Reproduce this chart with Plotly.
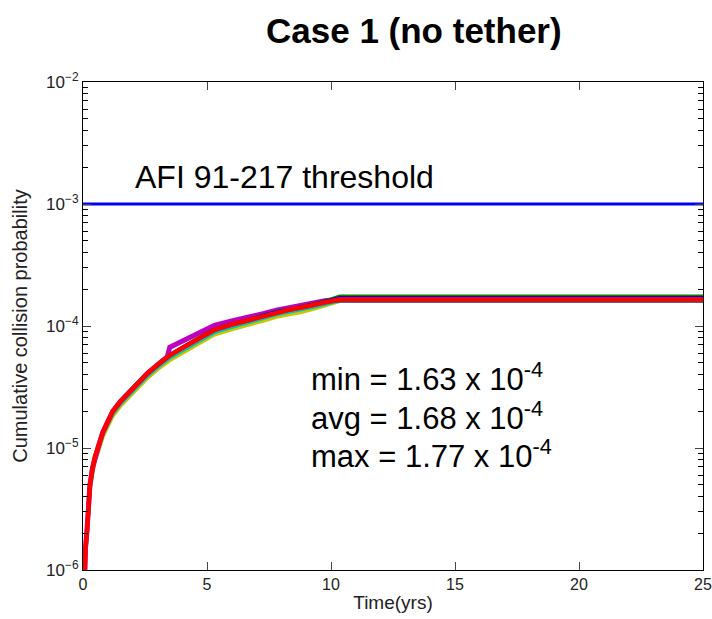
import plotly.graph_objects as go

# Time axis (years) shared by the simulation runs
time_yrs = [0.03, 0.06, 0.10, 0.16, 0.22, 0.28, 0.38, 0.48, 0.60, 0.80, 1.0, 1.2, 1.5, 1.8, 2.2,
            2.6, 3.0, 3.4, 3.5, 4.0, 4.6, 5.3, 6.0, 6.7, 7.3, 7.8, 8.3, 8.8, 9.3, 9.8, 10.35, 25]

# Cumulative collision probability of individual runs
run_red = [5.0e-7, 1.0e-6, 1.5e-6, 2.1e-6, 3.5e-6, 5.0e-6, 6.8e-6, 8.5e-6, 1.0e-5, 1.35e-5, 1.65e-5,
           2.0e-5, 2.4e-5, 2.8e-5, 3.4e-5, 4.1e-5, 4.8e-5, 5.6e-5, 5.75e-5, 6.6e-5, 7.8e-5, 9.3e-5,
           1.03e-4, 1.12e-4, 1.22e-4, 1.30e-4, 1.36e-4, 1.42e-4, 1.50e-4, 1.58e-4, 1.655e-4, 1.655e-4]
run_yellow = [5.0e-7, 0.93e-6, 1.38e-6, 1.95e-6, 3.2e-6, 4.6e-6, 6.2e-6, 7.8e-6, 9.2e-6, 1.24e-5, 1.51e-5,
              1.83e-5, 2.2e-5, 2.56e-5, 3.1e-5, 3.75e-5, 4.4e-5, 5.1e-5, 5.25e-5, 6.0e-5, 7.1e-5, 8.5e-5,
              9.4e-5, 1.02e-4, 1.11e-4, 1.19e-4, 1.24e-4, 1.30e-4, 1.38e-4, 1.47e-4, 1.60e-4, 1.60e-4]
run_cyan = [5.0e-7, 0.96e-6, 1.43e-6, 2.02e-6, 3.35e-6, 4.8e-6, 6.5e-6, 8.1e-6, 9.6e-6, 1.29e-5, 1.58e-5,
            1.91e-5, 2.3e-5, 2.68e-5, 3.25e-5, 3.92e-5, 4.6e-5, 5.35e-5, 5.5e-5, 6.3e-5, 7.45e-5, 8.9e-5,
            9.85e-5, 1.07e-4, 1.165e-4, 1.245e-4, 1.30e-4, 1.36e-4, 1.44e-4, 1.52e-4, 1.62e-4, 1.62e-4]
run_magenta = [5.0e-7, 1.0e-6, 1.5e-6, 2.1e-6, 3.5e-6, 5.0e-6, 6.8e-6, 8.5e-6, 1.0e-5, 1.35e-5, 1.65e-5,
               2.0e-5, 2.4e-5, 2.8e-5, 3.4e-5, 4.1e-5, 4.8e-5, 5.6e-5, 6.7e-5, 7.5e-5, 8.7e-5, 1.01e-4,
               1.10e-4, 1.18e-4, 1.27e-4, 1.35e-4, 1.41e-4, 1.47e-4, 1.55e-4, 1.62e-4, 1.63e-4, 1.63e-4]
run_gray = [5.0e-7, 0.98e-6, 1.47e-6, 2.07e-6, 3.45e-6, 4.9e-6, 6.7e-6, 8.3e-6, 9.8e-6, 1.32e-5, 1.61e-5,
            1.95e-5, 2.34e-5, 2.73e-5, 3.32e-5, 4.0e-5, 4.68e-5, 5.45e-5, 5.6e-5, 6.45e-5, 7.6e-5, 9.05e-5,
            1.005e-4, 1.09e-4, 1.19e-4, 1.265e-4, 1.325e-4, 1.385e-4, 1.46e-4, 1.54e-4, 1.59e-4, 1.59e-4]
run_green = [5.0e-7, 1.02e-6, 1.52e-6, 2.13e-6, 3.56e-6, 5.07e-6, 6.92e-6, 8.65e-6, 1.02e-5, 1.38e-5, 1.68e-5,
             2.03e-5, 2.44e-5, 2.85e-5, 3.46e-5, 4.17e-5, 4.89e-5, 5.7e-5, 5.85e-5, 6.73e-5, 7.95e-5, 9.5e-5,
             1.05e-4, 1.14e-4, 1.25e-4, 1.33e-4, 1.395e-4, 1.455e-4, 1.54e-4, 1.63e-4, 1.77e-4, 1.77e-4]
run_blue = [5.0e-7, 1.02e-6, 1.52e-6, 2.13e-6, 3.55e-6, 5.05e-6, 6.9e-6, 8.6e-6, 1.01e-5, 1.37e-5, 1.67e-5,
            2.02e-5, 2.43e-5, 2.83e-5, 3.44e-5, 4.15e-5, 4.86e-5, 5.67e-5, 5.82e-5, 6.7e-5, 7.9e-5, 9.42e-5,
            1.045e-4, 1.135e-4, 1.24e-4, 1.32e-4, 1.38e-4, 1.44e-4, 1.52e-4, 1.61e-4, 1.72e-4, 1.72e-4]

runs = [
    (run_yellow, "#c8c800", 4),
    (run_cyan, "#00c0c0", 4),
    (run_magenta, "#c000c0", 5),
    (run_gray, "#505050", 2),
    (run_green, "#008000", 2.5),
    (run_blue, "#0000ff", 2.5),
    (run_red, "#ff0000", 4.5),
]

threshold_x = [0, 25]
threshold_y = [1e-3, 1e-3]

x_ticks = [0, 5, 10, 15, 20, 25]
y_ticks = [1e-6, 1e-5, 1e-4, 1e-3, 1e-2]
y_ticktext = ["10<sup>−6</sup>", "10<sup>−5</sup>", "10<sup>−4</sup>", "10<sup>−3</sup>", "10<sup>−2</sup>"]
y_minor = [m * 10.0 ** e for e in range(-6, -2) for m in range(2, 10)]

stats_lines = ["min = 1.63 x 10<sup>-4</sup>", "avg = 1.68 x 10<sup>-4</sup>", "max = 1.77 x 10<sup>-4</sup>"]

fig = go.Figure()
for vals, col, w in runs:
    fig.add_trace(go.Scatter(x=time_yrs, y=vals, mode="lines",
                             line=dict(color=col, width=w), showlegend=False))
fig.add_trace(go.Scatter(x=threshold_x, y=threshold_y, mode="lines",
                         line=dict(color="#0000ff", width=3), showlegend=False))

FONT = "Liberation Sans, Arial, sans-serif"
L, R, T, B = 83, 703, 82, 570
W, H = R - L, B - T


def px(x):
    return (x - L) / W


def py(y):
    return (B - y) / H


fig.update_layout(
    width=712, height=619,
    margin=dict(l=L, r=712 - R, t=T, b=619 - B, autoexpand=False),
    paper_bgcolor="white", plot_bgcolor="white",
    font=dict(family=FONT),
    xaxis=dict(range=[0, 25], tickvals=x_ticks, ticks="inside", ticklen=8,
               showline=True, linecolor="black", linewidth=1, mirror="ticks",
               showgrid=False, zeroline=False, automargin=False,
               tickfont=dict(family=FONT, size=16, color="#222222"),
               title=dict(text="Time(yrs)", font=dict(size=19, color="#222222"), standoff=3)),
    yaxis=dict(type="log", range=[-6, -2], tickvals=y_ticks, ticktext=y_ticktext,
               ticks="inside", ticklen=8, showline=True, linecolor="black",
               linewidth=1, mirror="ticks", showgrid=False, zeroline=False,
               automargin=False,
               tickfont=dict(family=FONT, size=17, color="#222222"),
               minor=dict(tickmode="array", tickvals=y_minor, ticks="inside",
                          ticklen=5, tickcolor="black", showgrid=False),
               title=dict(text="Cumulative collision probability",
                          font=dict(size=20, color="#222222"), standoff=13)),
)

fig.add_annotation(text="<b>Case 1 (no tether)</b>", xref="paper", yref="paper",
                   x=px(414), y=py(31), xanchor="center", yanchor="middle",
                   showarrow=False, font=dict(size=35, color="black", family=FONT))
fig.add_annotation(text="AFI 91-217 threshold", xref="paper", yref="paper",
                   x=px(133), y=py(177), xanchor="left", yanchor="middle",
                   showarrow=False, font=dict(size=32, color="black", family=FONT))
for i, line in enumerate(stats_lines):
    fig.add_annotation(text=line, xref="paper", yref="paper",
                       x=px(309), y=py(377 + 38.5 * i),
                       xanchor="left", yanchor="middle", showarrow=False,
                       font=dict(size=31, color="black", family=FONT))

fig.write_html("out.html")
